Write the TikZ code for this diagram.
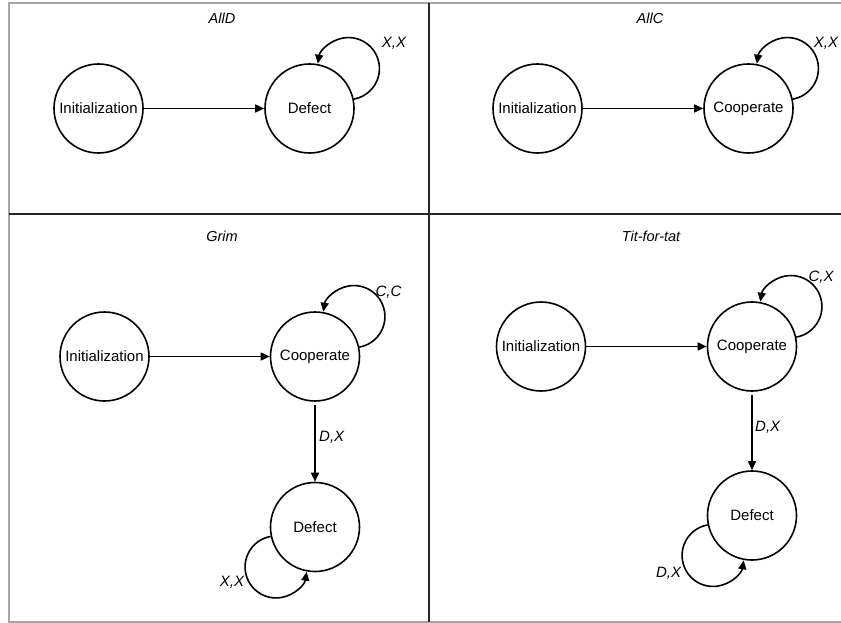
\documentclass[tikz,border=0pt]{standalone}
\usepackage{fontspec}
\setmainfont{Liberation Sans}
\usetikzlibrary{arrows.meta}
\begin{document}
\begin{tikzpicture}[x=1pt,y=-1pt,
  state/.style={circle,draw,line width=1.6pt,minimum size=89pt,inner sep=0pt,font=\fontsize{15}{18}\selectfont},
  ttl/.style={font=\fontsize{14.5}{17}\selectfont\itshape,inner sep=0pt},
  lab/.style={font=\fontsize{15}{18}\selectfont\itshape,inner sep=0pt},
  edge/.style={line width=1.6pt,-{Triangle[length=9pt,width=8pt]}},
  framel/.style={draw=black!35,line width=1.2pt},
  divl/.style={draw=black!85,line width=1.6pt}
  ]
\useasboundingbox (0,0) rectangle (841,623);
% frame
\draw[framel] (841,3) -- (9,3) -- (9,622) -- (841,622);
\draw[divl] (429,3) -- (429,622);
\draw[divl] (9,214) -- (841,214);

% titles
\node[ttl] (t1) at (222,18) {AllD};
\node[ttl] (t2) at (650,18) {AllC};
\node[ttl] (t3) at (222,236) {Grim};
\node[ttl] (t4) at (651,236) {Tit-for-tat};

% AllD
\node[state] (I1) at (98.5,108.5) {Initialization};
\node[state] (D1) at (309.5,108.5) {Defect};
\draw[edge] (I1) -- (D1);
\draw[edge] (D1.12) arc[start angle=-80,end angle=171,radius=31pt];
\node[lab] (l1) at (394,43) {X,X};

% AllC
\node[state] (I2) at (537.5,108.5) {Initialization};
\node[state] (C2) at (748.5,108.5) {Cooperate};
\draw[edge] (I2) -- (C2);
\draw[edge] (C2.12) arc[start angle=-80,end angle=171,radius=31pt];
\node[lab] (l2) at (826,43) {X,X};

% Grim
\node[state] (I3) at (104.5,356.5) {Initialization};
\node[state] (C3) at (315,356.5) {Cooperate};
\node[state] (D3) at (315,527) {Defect};
\draw[edge] (I3) -- (C3);
\draw[edge,shorten <=3pt] (C3) -- (D3);
\draw[edge] (C3.12) arc[start angle=-80,end angle=171,radius=31pt];
\draw[edge] (D3.192) arc[start angle=100,end angle=351,radius=31pt];
\node[lab] (l3a) at (388.5,292) {C,C};
\node[lab,anchor=west] (l3b) at (319,437) {D,X};
\node[lab] (l3c) at (232,582) {X,X};

% Tit-for-tat
\node[state] (I4) at (541,346.5) {Initialization};
\node[state] (C4) at (752,346.5) {Cooperate};
\node[state] (D4) at (752,515.5) {Defect};
\draw[edge] (I4) -- (C4);
\draw[edge,shorten <=3pt] (C4) -- (D4);
\draw[edge] (C4.12) arc[start angle=-80,end angle=171,radius=31pt];
\draw[edge] (D4.192) arc[start angle=100,end angle=351,radius=31pt];
\node[lab] (l4a) at (821,277) {C,X};
\node[lab,anchor=west] (l4b) at (755,427) {D,X};
\node[lab] (l4c) at (668.5,573) {D,X};
\end{tikzpicture}
\end{document}
